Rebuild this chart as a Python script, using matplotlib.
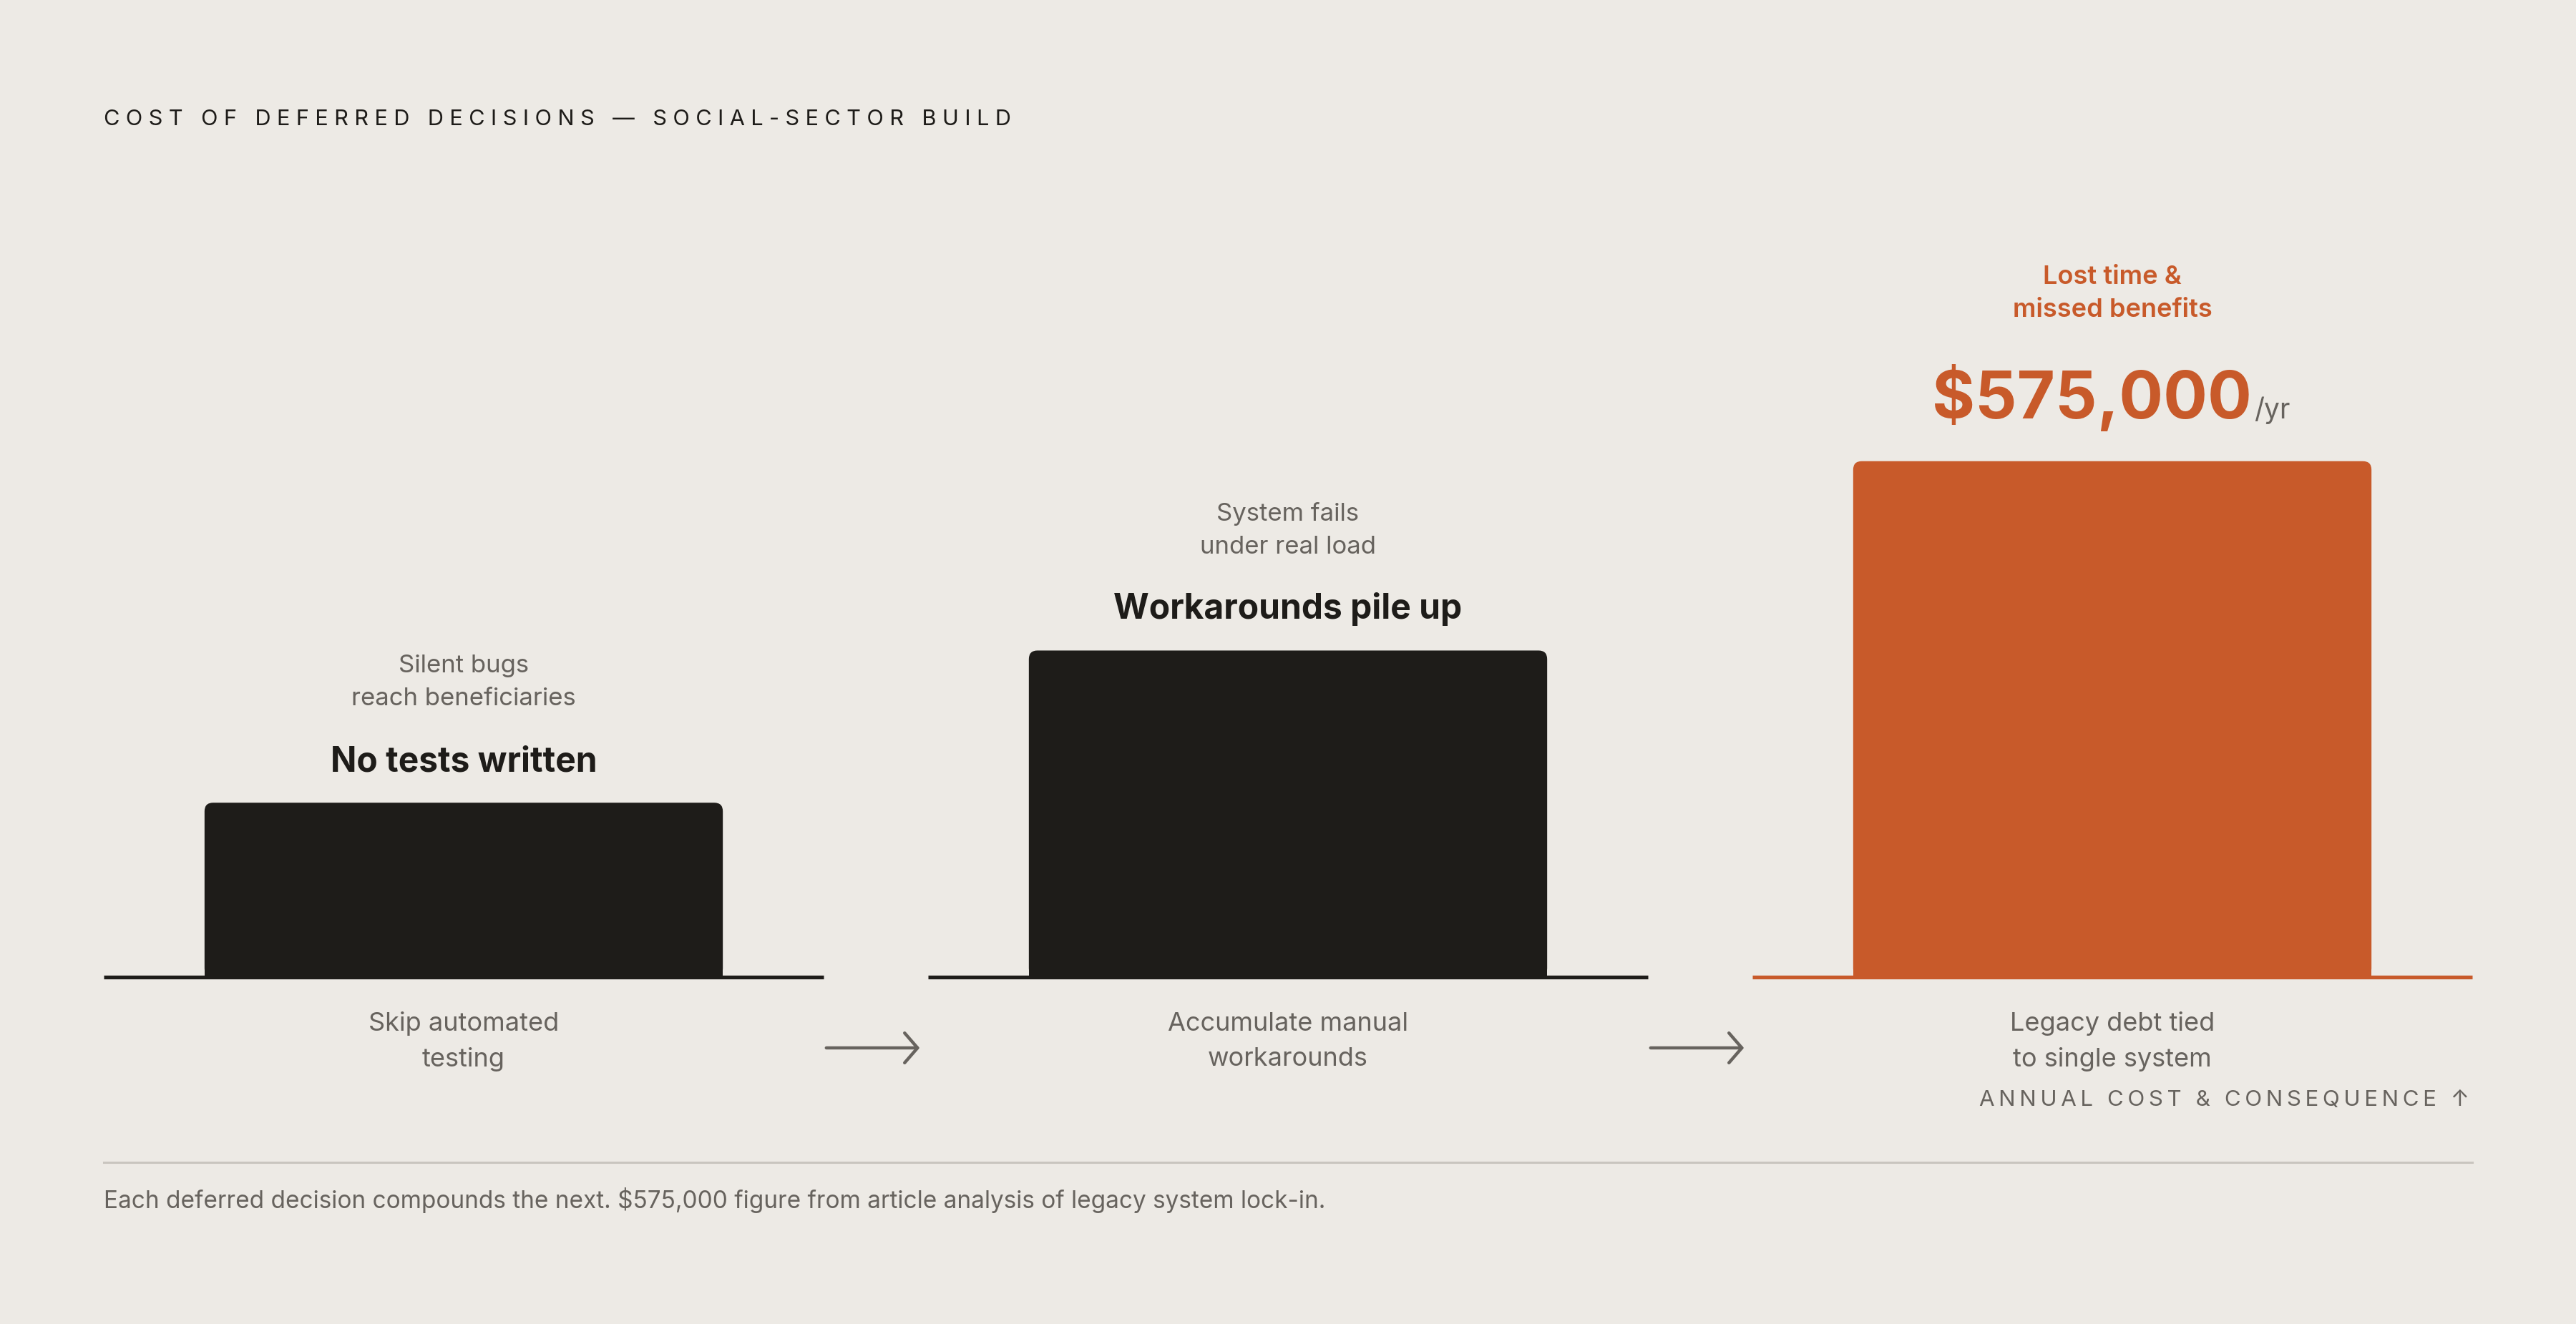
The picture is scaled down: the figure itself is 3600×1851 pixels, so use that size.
import matplotlib
matplotlib.use("Agg")
import matplotlib.pyplot as plt
from matplotlib.patches import FancyBboxPatch, FancyArrowPatch
from matplotlib.lines import Line2D

plt.rcParams['font.family'] = ['Inter', 'DejaVu Sans']

# ==========================================
# Data
# ==========================================
steps = ["Skip automated\ntesting", "Accumulate manual\nworkarounds", "Legacy debt tied\nto single system"]
headlines = ["No tests written", "Workarounds pile up", "$575,000"]
consequences = ["Silent bugs\nreach beneficiaries", "System fails\nunder real load", "Lost time &\nmissed benefits"]
severity = [33.8, 63.3, 100]  # relative size of each consequence (bar height)
cost_unit = "/yr"

title = "COST OF DEFERRED DECISIONS — SOCIAL-SECTOR BUILD"
axis_note = "ANNUAL COST & CONSEQUENCE ↑"
footnote = "Each deferred decision compounds the next. $575,000 figure from article analysis of legacy system lock-in."

# colours
bg = '#EDEAE5'
ink = '#1E1C19'
rust = '#C85A2A'
grey = '#67635E'
rule = '#C9C5BF'

W, H = 3600, 1851
fig = plt.figure(figsize=(W / 100, H / 100), dpi=100, facecolor=bg)


def fx(px):
    return px / W


def fy(py):
    return 1 - py / H


def spaced(s, sep="\u2009"):
    # letter spacing with thin spaces
    return sep.join(s)


fig.text(fx(145), fy(167), spaced(title, "\u2009\u200a"), fontsize=22.1, color=ink, va='center', ha='left')

# ==========================================
# Panels
# ==========================================
panel_left = [145, 1297, 2449]
panel_w = 1006
base_y = 1366
ax_h = 1066
ymax = 147.8
bar_w = 0.72

for i in range(3):
    ax = fig.add_axes([fx(panel_left[i]), fy(base_y), panel_w / W, ax_h / H])
    ax.set_xlim(0, 1)
    ax.set_ylim(0, ymax)
    ax.axis('off')
    col = rust if i == 2 else ink
    v = severity[i]

    # rounded top corners, square bottom
    aspect = (ymax / ax_h) / (1 / panel_w)
    r = 12 / panel_w
    ax.add_patch(FancyBboxPatch((0.5 - bar_w / 2, 0), bar_w, v,
                                boxstyle=f"round,pad=0,rounding_size={r}",
                                mutation_aspect=aspect, fc=col, ec='none'))
    ax.bar(0.5, v / 2, width=bar_w, color=col, linewidth=0)
    ax.add_line(Line2D([0, 1], [0, 0], color=col, lw=3.8, clip_on=False,
                       solid_capstyle='butt'))

    if i < 2:
        ax.annotate(headlines[i], xy=(0.5, v), xytext=(0, 44), textcoords='offset pixels',
                    ha='center', va='baseline', fontsize=34.5, fontweight='bold', color=ink)
        ax.annotate(consequences[i], xy=(0.5, v), xytext=(0, 168), textcoords='offset pixels',
                    ha='center', va='center', fontsize=25, color=grey, linespacing=1.55)
    else:
        num = ax.annotate(headlines[i], xy=(0.5, v), xytext=(-29, 60), textcoords='offset pixels',
                          ha='center', va='baseline', fontsize=66, fontweight='bold', color=rust)
        ax.annotate(cost_unit, xy=(1, v), xycoords=(num, 'data'), xytext=(4, 60),
                    textcoords='offset pixels', ha='left', va='baseline', fontsize=28, color=grey)
        ax.annotate(consequences[i], xy=(0.5, v), xytext=(0, 234), textcoords='offset pixels',
                    ha='center', va='center', fontsize=26, fontweight='semibold', color=rust,
                    linespacing=1.5)

    ax.annotate(steps[i], xy=(0.5, 0), xytext=(0, -90), textcoords='offset pixels',
                ha='center', va='center', fontsize=26, color=grey, linespacing=1.6)

# arrows between steps
for x0, x1 in [(1152, 1288), (2304, 2440)]:
    fig.patches.append(FancyArrowPatch((fx(x0), fy(1465)), (fx(x1), fy(1465)),
                                       transform=fig.transFigure,
                                       arrowstyle='->,head_length=13,head_width=15',
                                       mutation_scale=1, color=grey, lw=3.2))

fig.text(fx(3451), fy(1538), spaced(axis_note), fontsize=22.5, color=grey, ha='right', va='center')

# footer
fig.add_artist(Line2D([fx(145), fx(3455)], [fy(1625), fy(1625)], color=rule, lw=2.2,
                      transform=fig.transFigure))
fig.text(fx(145), fy(1678), footnote, fontsize=24, color=grey, ha='left', va='center')

fig.savefig("out.png", dpi=100, facecolor=bg)
